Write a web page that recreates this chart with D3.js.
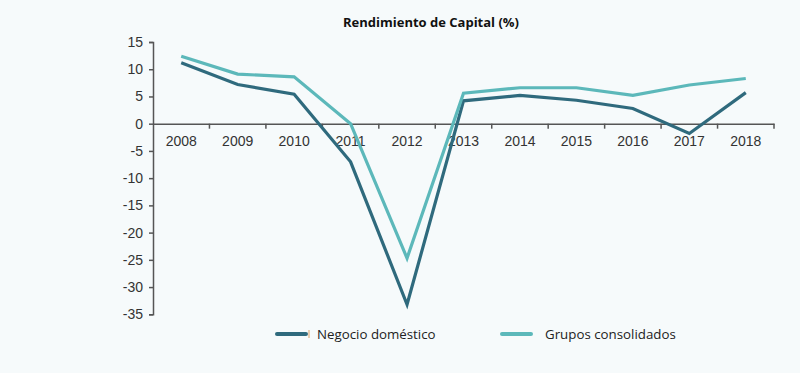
<!DOCTYPE html>
<html>
<head>
<meta charset="utf-8">
<script src="https://cdn.jsdelivr.net/npm/d3@7"></script>
<style>
  body { margin: 0; background: #f6fafb; }
  svg { display: block; }
</style>
</head>
<body>
<div id="chart"></div>
<script>
// data
const years = ['2008', '2009', '2010', '2011', '2012', '2013', '2014', '2015', '2016', '2017', '2018'];
const negocioDomestico = [11.2, 7.2, 5.4, -7.0, -33.2, 4.2, 5.2, 4.3, 2.8, -1.8, 5.7];
const gruposConsolidados = [12.4, 9.1, 8.6, 0.0, -24.7, 5.6, 6.6, 6.6, 5.2, 7.1, 8.3];
const yTicks = [15, 10, 5, 0, -5, -10, -15, -20, -25, -30, -35];
const seriesNames = ['Negocio doméstico', 'Grupos consolidados'];

const width = 800, height = 373;
const colors = ['#2f6a7d', '#5cb8ba'];
const axisFont = "'Liberation Sans', Arial, sans-serif";

const svg = d3.select('#chart').append('svg')
    .attr('width', width)
    .attr('height', height);

svg.append('rect')
    .attr('width', width)
    .attr('height', height)
    .attr('fill', '#f6fafb');

// title
svg.append('text')
    .attr('x', 431)
    .attr('y', 27)
    .attr('text-anchor', 'middle')
    .style('font-family', "'Open Sans', sans-serif")
    .style('font-weight', 'bold')
    .style('font-size', '13px')
    .attr('fill', '#111')
    .text('Rendimiento de Capital (%)');

const x = d3.scaleBand()
    .domain(years)
    .range([153, 774]);

const y = d3.scaleLinear()
    .domain([-35, 15])
    .range([314.3, 42]);

// y axis (plain hyphen for negatives, like the original)
const yAxis = svg.append('g')
    .attr('transform', 'translate(153,0)')
    .call(d3.axisLeft(y).tickValues(yTicks).tickSize(4).tickPadding(6).tickFormat(d => String(d)));
yAxis.select('.domain').attr('stroke', '#555').attr('stroke-width', 1.5);
yAxis.selectAll('.tick line').attr('stroke', '#555').attr('stroke-width', 1.5);
yAxis.selectAll('text')
    .attr('font-family', null)
    .style('font-family', axisFont)
    .style('font-size', '14px')
    .attr('fill', '#333');

// x axis along zero, ticks between categories
const xAxis = svg.append('g')
    .attr('transform', `translate(0,${y(0)})`)
    .call(d3.axisBottom(x).tickSize(0).tickPadding(12));
xAxis.select('.domain').attr('stroke', '#555').attr('stroke-width', 1.5);
xAxis.selectAll('text')
    .style('font-family', axisFont)
    .style('font-size', '14px')
    .attr('fill', '#333');

const boundaries = years.map(d => x(d)).concat([x(years[years.length - 1]) + x.bandwidth()]).slice(1);
xAxis.selectAll('.sep')
    .data(boundaries)
    .enter()
    .append('line')
    .attr('x1', d => d)
    .attr('x2', d => d)
    .attr('y1', 0)
    .attr('y2', 5)
    .attr('stroke', '#555')
    .attr('stroke-width', 1.5);

// lines
const line = d3.line()
    .x((d, i) => x(years[i]) + x.bandwidth() / 2)
    .y(d => y(d));

[negocioDomestico, gruposConsolidados].forEach((vals, i) => {
    svg.append('path')
        .datum(vals)
        .attr('d', line)
        .attr('fill', 'none')
        .attr('stroke', colors[i])
        .attr('stroke-width', 3.2)
        .attr('stroke-linejoin', 'miter');
});

// legend
const legendX = [277, 502];
seriesNames.forEach((name, i) => {
    const g = svg.append('g').attr('transform', `translate(${legendX[i]},334)`);
    g.append('line')
        .attr('x1', 0)
        .attr('x2', 29)
        .attr('y1', 0)
        .attr('y2', 0)
        .attr('stroke', colors[i])
        .attr('stroke-width', 4)
        .attr('stroke-linecap', 'round');
    if (i === 0) {
        g.append('line')
            .attr('x1', 32).attr('x2', 32)
            .attr('y1', -4).attr('y2', 4)
            .attr('stroke', '#d9a066')
            .attr('stroke-width', 1);
    }
    g.append('text')
        .attr('x', i === 0 ? 40 : 43)
        .attr('y', 5)
        .style('font-family', "'Open Sans', sans-serif")
        .style('font-size', '13.3px')
        .attr('fill', '#222')
        .text(name);
});
</script>
</body>
</html>
